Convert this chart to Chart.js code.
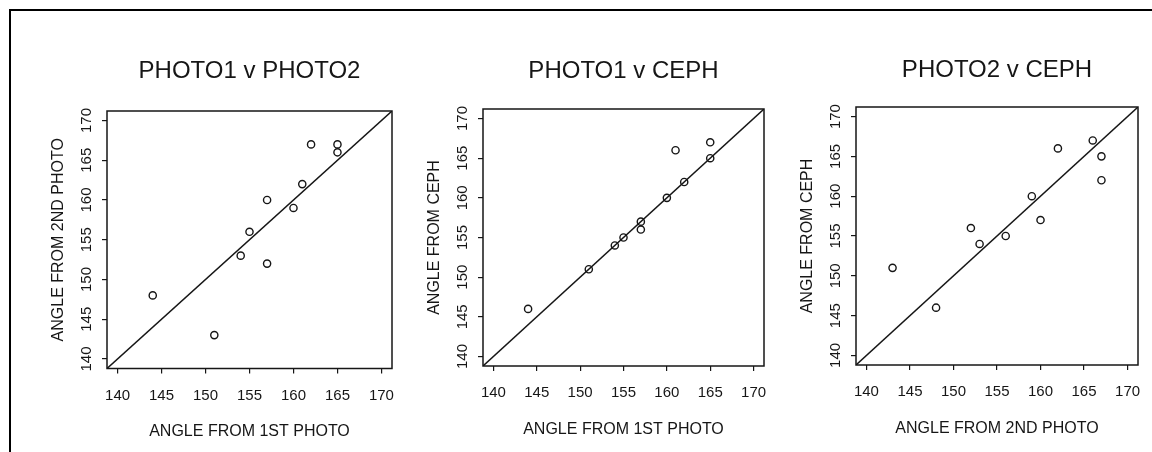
<!DOCTYPE html>
<html>
<head>
<meta charset="utf-8">
<script src="https://cdn.jsdelivr.net/npm/chart.js@4.4.1/dist/chart.umd.min.js"></script>
<style>
  body { margin: 0; background: #fff; width: 1152px; height: 452px; overflow: hidden; position: relative; }
  #frame { position: absolute; left: 9px; top: 9px; right: 0; bottom: 0; border-left: 2px solid #000; border-top: 2px solid #000; }
  canvas { position: absolute; }
</style>
</head>
<body>
<div id="frame"></div>
<canvas id="c1"></canvas>
<canvas id="c2"></canvas>
<canvas id="c3"></canvas>
<script>
// one entry per subject
const photo1 = [144, 151, 154, 155, 157, 157, 160, 161, 162, 165, 165];
const photo2 = [148, 143, 153, 156, 160, 152, 159, 162, 167, 167, 166];
const ceph   = [146, 151, 154, 155, 157, 156, 160, 166, 162, 165, 167];

const axisTicks = [140, 145, 150, 155, 160, 165, 170];
const axisMin = 138.8;
const axisMax = 171.2;

const INK = '#161616';
const FONT = "'Liberation Sans', Arial, Helvetica, sans-serif";

// layout (page pixels)
const CANVAS_TOP = 40;
const CANVAS_H = 412;
const SIDE_W = 80;
const X_AXIS_H = 78;
const TITLE_SIZE = 24;

const panels = [
  { id: 'c1', title: 'PHOTO1 v PHOTO2', xLabel: 'ANGLE FROM 1ST PHOTO', yLabel: 'ANGLE FROM 2ND PHOTO',
    xs: photo1, ys: photo2, box: { l: 107, t: 111, r: 392, b: 368.5 }, titleY: 71.7 },
  { id: 'c2', title: 'PHOTO1 v CEPH', xLabel: 'ANGLE FROM 1ST PHOTO', yLabel: 'ANGLE FROM CEPH',
    xs: photo1, ys: ceph, box: { l: 483, t: 109, r: 764, b: 366 }, titleY: 71.3 },
  { id: 'c3', title: 'PHOTO2 v CEPH', xLabel: 'ANGLE FROM 2ND PHOTO', yLabel: 'ANGLE FROM CEPH',
    xs: photo2, ys: ceph, box: { l: 856, t: 107, r: 1138, b: 365 }, titleY: 70.5 }
];

const boxPlugin = {
  id: 'box',
  afterDatasetsDraw(chart) {
    const a = chart.chartArea, ctx = chart.ctx;
    ctx.save();
    ctx.strokeStyle = INK;
    ctx.lineWidth = 1.5;
    ctx.strokeRect(a.left, a.top, a.right - a.left, a.bottom - a.top);
    ctx.restore();
  }
};

function setTicks(scale) {
  scale.ticks = axisTicks.map(function(v) { return { value: v }; });
}

function makeChart(p) {
  const cv = document.getElementById(p.id);
  cv.width = p.box.r - p.box.l + 2 * SIDE_W;
  cv.height = CANVAS_H;
  cv.style.left = (p.box.l - SIDE_W) + 'px';
  cv.style.top = CANVAS_TOP + 'px';

  const titleLH = TITLE_SIZE * 1.2;
  const titleTop = p.titleY - CANVAS_TOP - titleLH / 2;
  const titleBottom = p.box.t - CANVAS_TOP - titleTop - titleLH;
  const padBottom = CANVAS_H - X_AXIS_H - (p.box.b - CANVAS_TOP);

  const points = p.xs.map(function(x, i) { return { x: x, y: p.ys[i] }; });

  return new Chart(cv.getContext('2d'), {
    type: 'scatter',
    data: {
      datasets: [
        {
          data: points,
          pointStyle: 'circle',
          pointRadius: 3.6,
          pointBorderWidth: 1.4,
          pointBorderColor: INK,
          pointBackgroundColor: 'rgba(0,0,0,0)',
          order: 0
        },
        {
          data: [{ x: axisMin, y: axisMin }, { x: axisMax, y: axisMax }],
          showLine: true,
          borderColor: INK,
          borderWidth: 1.5,
          pointRadius: 0,
          order: 1
        }
      ]
    },
    options: {
      responsive: false,
      animation: false,
      devicePixelRatio: 1,
      layout: { padding: { left: 0, right: SIDE_W, top: 0, bottom: padBottom } },
      plugins: {
        legend: { display: false },
        tooltip: { enabled: false },
        title: {
          display: true,
          fullSize: false,
          text: p.title,
          color: INK,
          font: { family: FONT, size: TITLE_SIZE, weight: 'normal' },
          padding: { top: titleTop, bottom: titleBottom }
        }
      },
      scales: {
        x: {
          type: 'linear',
          min: axisMin,
          max: axisMax,
          afterBuildTicks: setTicks,
          afterFit: function(s) { s.height = X_AXIS_H; },
          grid: { drawOnChartArea: false, drawTicks: true, tickLength: 5, color: INK, lineWidth: 1.2 },
          border: { display: false },
          ticks: { color: INK, font: { family: FONT, size: 15 }, padding: 13, autoSkip: false, maxRotation: 0 },
          title: { display: true, text: p.xLabel, color: INK, font: { family: FONT, size: 16 }, padding: { top: 0, bottom: 5 } }
        },
        y: {
          type: 'linear',
          min: axisMin,
          max: axisMax,
          afterBuildTicks: setTicks,
          afterFit: function(s) { s.width = SIDE_W; },
          grid: { drawOnChartArea: false, drawTicks: true, tickLength: 5, color: INK, lineWidth: 1.2 },
          border: { display: false },
          ticks: { color: INK, font: { family: FONT, size: 15 }, padding: 3, autoSkip: false, minRotation: 90, maxRotation: 90, crossAlign: 'center' },
          title: { display: true, text: p.yLabel, color: INK, font: { family: FONT, size: 16 }, padding: { top: 22.4, bottom: 0 } }
        }
      }
    },
    plugins: [boxPlugin]
  });
}

panels.forEach(makeChart);
</script>
</body>
</html>
